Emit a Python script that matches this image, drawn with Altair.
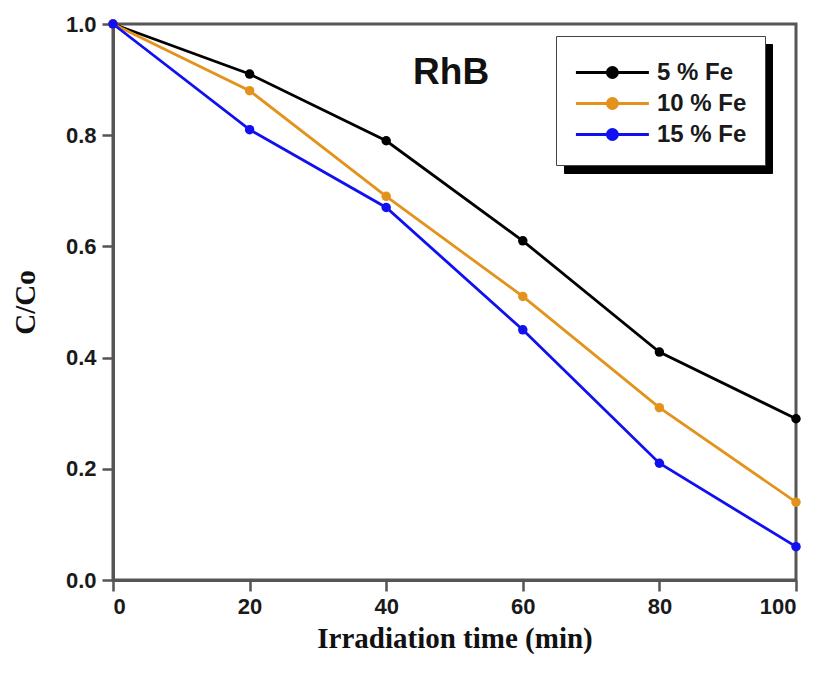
import altair as alt
import pandas as pd

times = [0, 20, 40, 60, 80, 100]
fe5 = [1.0, 0.91, 0.79, 0.61, 0.41, 0.29]
fe10 = [1.0, 0.88, 0.69, 0.51, 0.31, 0.14]
fe15 = [1.0, 0.81, 0.67, 0.45, 0.21, 0.06]
series = ["5 % Fe", "10 % Fe", "15 % Fe"]
colors = ["#000000", "#E3931C", "#1010F0"]

rows = []
for name, vals in zip(series, [fe5, fe10, fe15]):
    for t, v in zip(times, vals):
        rows.append({"t": t, "c": v, "s": name, "s2": name})
df = pd.DataFrame(rows)

SYM = "M-1,0H3.4M0.9,0A0.3,0.3 0 1,1 1.5,0A0.3,0.3 0 1,1 0.9,0"
legend_common = dict(title=None, orient="none", padding=18,
                     labelFont="Liberation Sans", labelFontSize=24,
                     labelFontWeight="bold", symbolType=SYM,
                     symbolSize=1100, symbolStrokeWidth=3,
                     rowPadding=0)

x = alt.X("t:Q", title="Irradiation time (min)",
          scale=alt.Scale(domain=[0, 100], nice=False),
          axis=alt.Axis(values=[0, 20, 40, 60, 80, 100], grid=False))
y = alt.Y("c:Q", title="C/Co",
          scale=alt.Scale(domain=[0, 1], nice=False),
          axis=alt.Axis(values=[0, 0.2, 0.4, 0.6, 0.8, 1.0], format=".1f", grid=False))
color = alt.Color("s:N", sort=series,
                  scale=alt.Scale(domain=series, range=colors),
                  legend=alt.Legend(legendX=443, legendY=12, strokeColor="#444",
                                    fillColor="white", labelColor="#1a1a1a",
                                    labelOffset=46,
                                    **legend_common))

# invisible layer whose (label-less) legend acts as the drop shadow of the legend box
shadow = alt.Chart(df).mark_point(size=0, opacity=0).encode(
    x=x, y=y,
    strokeDash=alt.StrokeDash("s2:N", sort=series,
                              legend=alt.Legend(legendX=451, legendY=20, strokeColor="#000",
                                                fillColor="#000", labelColor="#000",
                                                symbolOpacity=0, labelOffset=135,
                                                labelExpr="''",
                                                **legend_common)))

lines = alt.Chart(df).mark_line(strokeWidth=2.8, point=alt.OverlayMarkDef(filled=True, size=90)).encode(
    x=x, y=y, color=color, order="t:Q")

label_df = pd.DataFrame({"t": [49.5], "c": [0.912], "txt": ["RhB"]})
label = alt.Chart(label_df).mark_text(font="Liberation Sans", fontSize=37, fontWeight="bold",
                                      color="#111").encode(x="t:Q", y="c:Q", text="txt:N")

chart = alt.layer(shadow, lines, label).properties(
    width=683, height=556, padding={"left": 3, "top": 5, "right": 5, "bottom": 5}
).configure_view(
    stroke="#555", strokeWidth=3
).configure_axis(
    domainColor="#555", domainWidth=3, tickColor="#555", tickWidth=2.5, tickSize=11,
    labelFont="Liberation Sans", labelFontSize=22, labelFontWeight="bold", labelColor="#1a1a1a",
    titleFont="Liberation Serif", titleFontSize=29, titleFontWeight="bold", titleColor="#111",
    labelPadding=6
).configure_axisY(titlePadding=25).configure_axisX(titlePadding=7, labelPadding=5)

chart.save("out.html", embed_options={"renderer": "svg", "actions": False})
